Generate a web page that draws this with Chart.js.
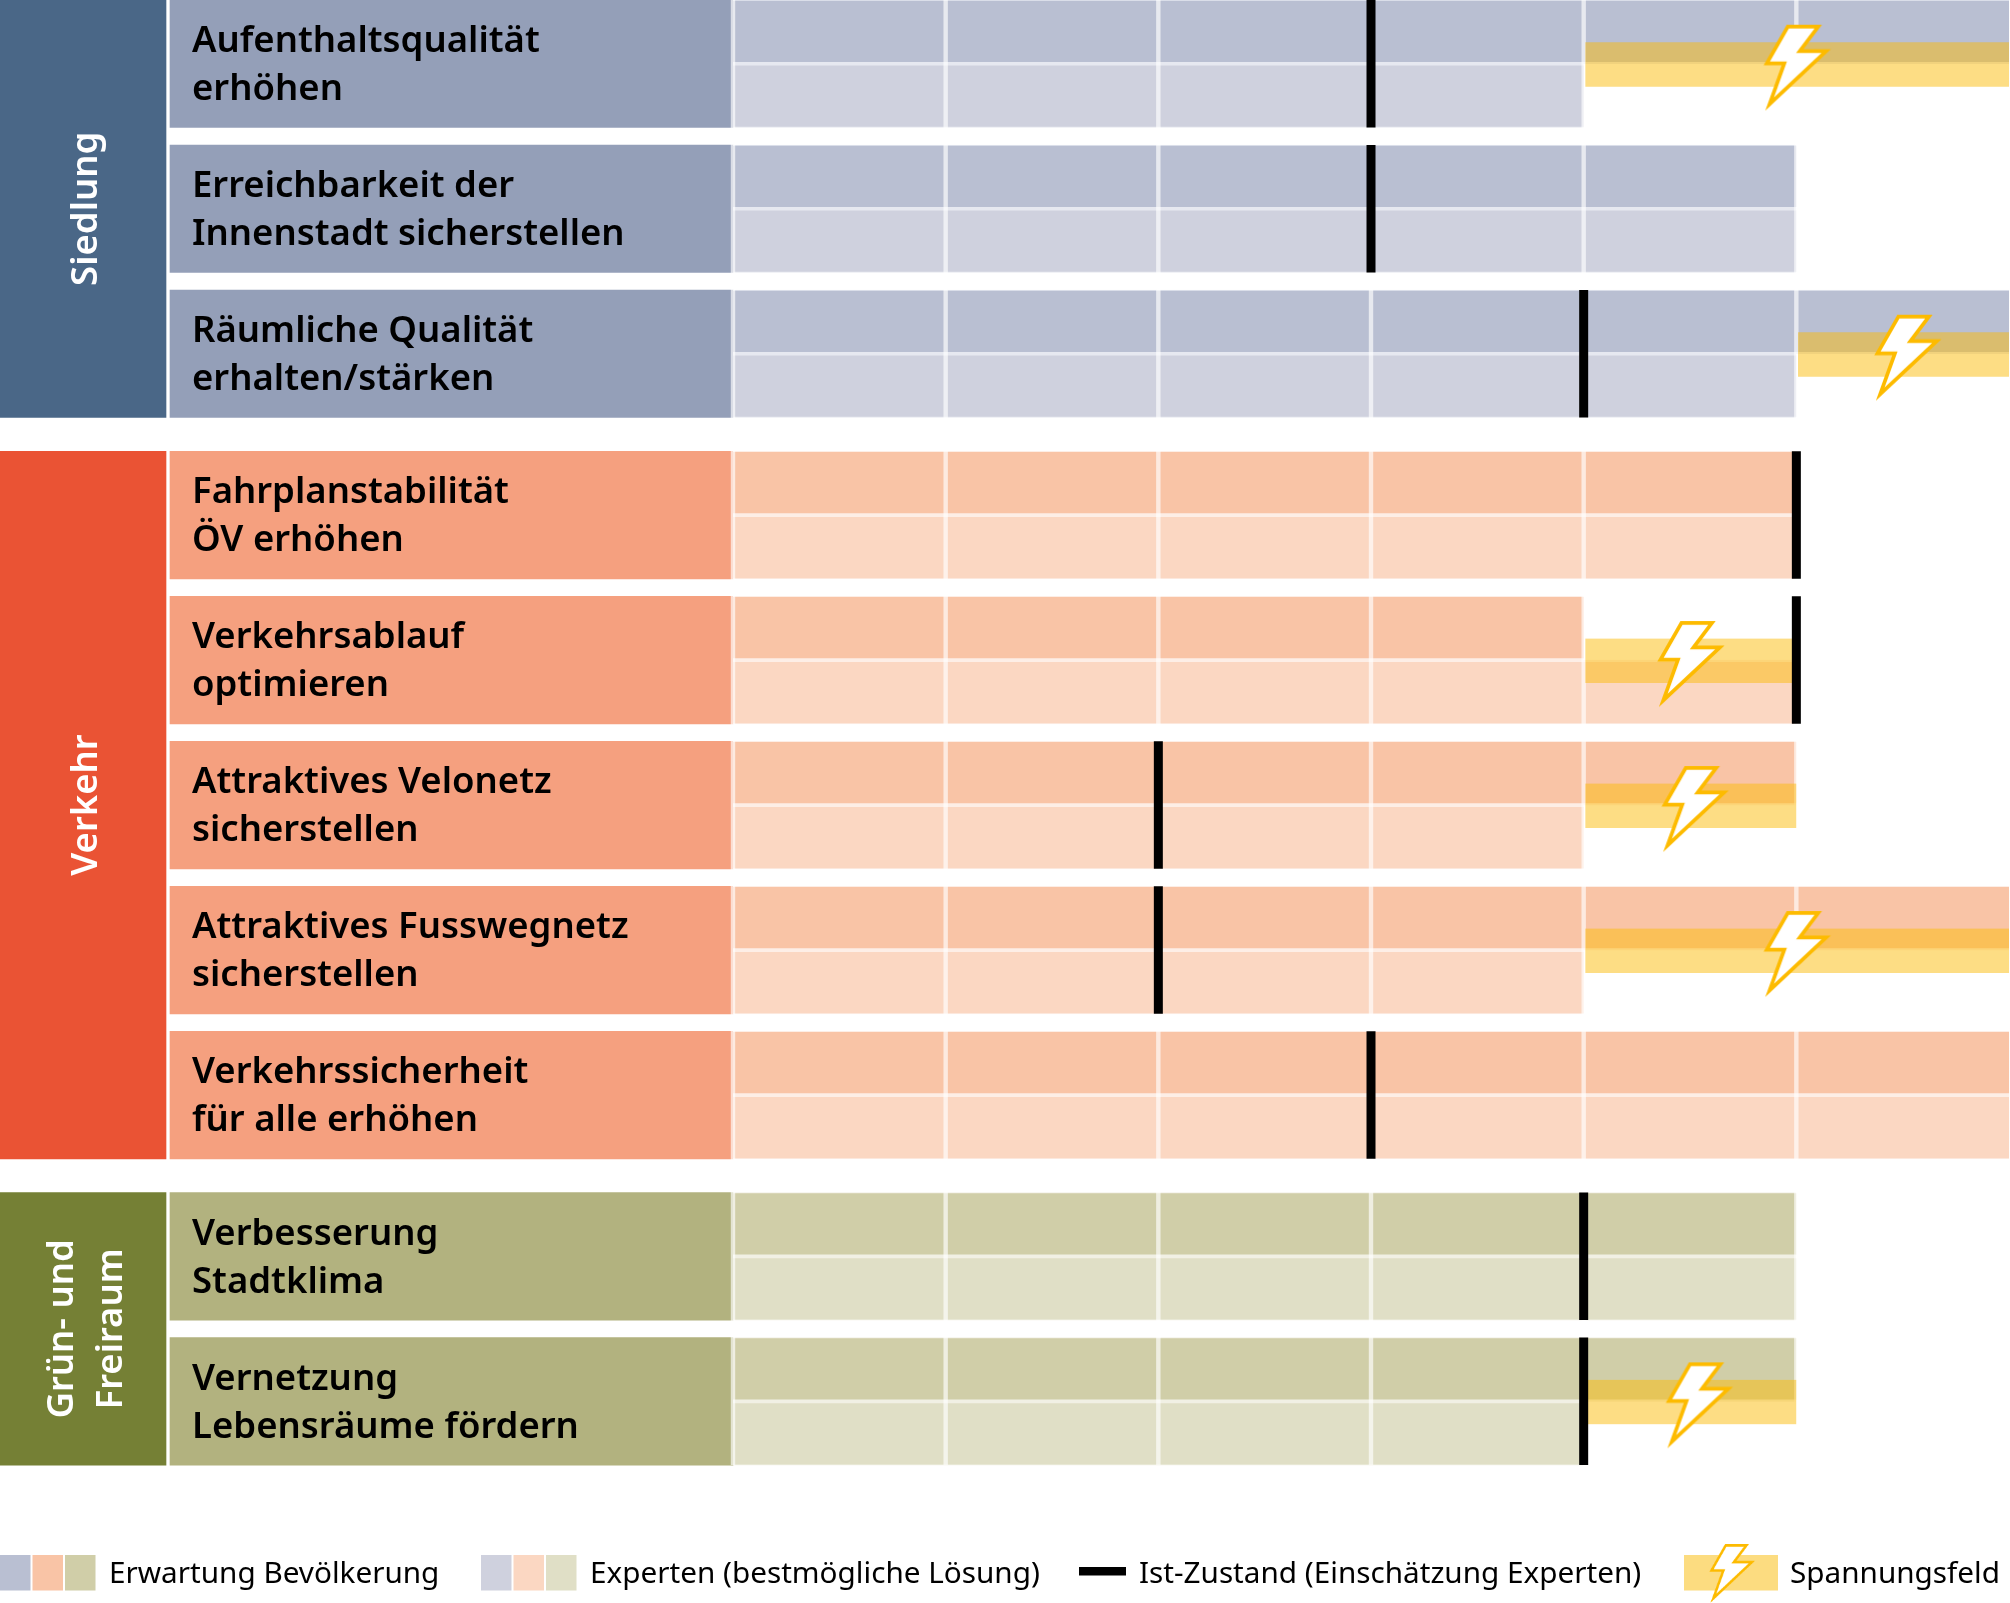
<!DOCTYPE html>
<html lang="de">
<head>
<meta charset="utf-8">
<title>Ziele</title>
<script src="https://cdn.jsdelivr.net/npm/chart.js@4"></script>
<style>
  html, body { margin: 0; padding: 0; background: #fff; }
  canvas { display: block; }
</style>
</head>
<body>
<canvas id="chart" width="2010" height="1603"></canvas>
<script>
// Daten
const rowLabels = [
    ["Aufenthaltsqualität", "erhöhen"],
    ["Erreichbarkeit der", "Innenstadt sicherstellen"],
    ["Räumliche Qualität", "erhalten/stärken"],
    ["Fahrplanstabilität", "ÖV erhöhen"],
    ["Verkehrsablauf", "optimieren"],
    ["Attraktives Velonetz", "sicherstellen"],
    ["Attraktives Fusswegnetz", "sicherstellen"],
    ["Verkehrssicherheit", "für alle erhöhen"],
    ["Verbesserung", "Stadtklima"],
    ["Vernetzung", "Lebensräume fördern"]
];
const groupLabels = [["Siedlung"], ["Verkehr"], ["Grün- und", "Freiraum"]];
const rowGroup = [0, 0, 0, 1, 1, 1, 1, 1, 2, 2];
const erwartung = [6, 5, 6, 5, 4, 5, 6, 6, 5, 5];
const experten = [4, 5, 5, 5, 5, 4, 4, 6, 5, 4];
const istZustand = [3, 3, 4, 5, 5, 2, 2, 3, 4, 4];
const spannungVon = [4, null, 5, null, 4, 4, 4, null, null, 4];
const spannungBis = [6, null, 6, null, 5, 5, 6, null, null, 5];
const blitzWert = [5, null, 5.52, null, 4.5, 4.52, 5, null, null, 4.54];
const gridValues = [0, 1, 2, 3, 4, 5];
const legendTexts = ["Erwartung Bevölkerung", "Experten (bestmögliche Lösung)", "Ist-Zustand (Einschätzung Experten)", "Spannungsfeld"];

// Farben je Gruppe
const sideColors = ["#4a6787", "#ea5334", "#758035"];
const boxColors = ["#949fb8", "#f5a07f", "#b2b27f"];
const upperColors = ["#b9bfd2", "#f9c4a6", "#d0cea8"];
const lowerColors = ["#cfd1de", "#fbd7c2", "#e0dfc6"];
const tintColors = ["#e6e8f0", "#fdeee6", "#f1f0e4"];
const bandColor = "rgba(251,187,9,0.5)";
const boltColor = "#fdbb00";

// Layout (y-Achse läuft in Pixeln, x-Achse in Skalenstufen)
const W = 2010, H = 1603;
const zeroPx = 733, stepPx = 212.67;
const rowPitch = 145, groupGap = 16.3, rowH = 127.5;
const sideEnd = (166 - zeroPx) / stepPx;
const boxStart = (170 - zeroPx) / stepPx;
const rowTop = i => i * rowPitch + rowGroup[i] * groupGap;
const rowsOf = g => rowGroup.map((v, i) => v === g ? i : -1).filter(i => i >= 0);

function makeBolt() {
    const c = document.createElement("canvas");
    c.width = 84; c.height = 104;
    const p = c.getContext("2d");
    p.translate(42, 52);
    p.scale(1.03, 1.02);
    p.beginPath();
    p.moveTo(-8.3, -40.3);
    p.lineTo(21.3, -40.3);
    p.lineTo(3.3, -16.3);
    p.lineTo(29, -16.3);
    p.lineTo(-26, 35.7);
    p.lineTo(-11.7, -4.3);
    p.lineTo(-28.7, -4.3);
    p.closePath();
    p.fillStyle = "#fff";
    p.fill();
    p.lineWidth = 3.6;
    p.miterLimit = 12;
    p.strokeStyle = boltColor;
    p.stroke();
    return c;
}
const bolt = makeBolt();

const withBand = rowLabels.map((_, i) => i).filter(i => spannungVon[i] !== null);

const sideSets = groupLabels.map((_, g) => {
    const rows = rowsOf(g);
    const top = rowTop(rows[0]);
    const bottom = rowTop(rows[rows.length - 1]) + rowH;
    return {
        type: "bar", label: "Gruppe " + g, stack: "s", order: 6,
        data: [{ x: [-zeroPx / stepPx, sideEnd], y: (top + bottom) / 2 }],
        barThickness: bottom - top,
        backgroundColor: sideColors[g]
    };
});

const datasets = [
    ...sideSets,
    {
        type: "bar", label: "Ziel", stack: "s", order: 6,
        data: rowLabels.map((_, i) => ({ x: [boxStart, 0], y: rowTop(i) + rowH / 2 })),
        barThickness: rowH,
        backgroundColor: rowGroup.map(g => boxColors[g])
    },
    {
        type: "bar", label: legendTexts[0], stack: "s", order: 5,
        data: erwartung.map((v, i) => ({ x: [0, v], y: rowTop(i) + rowH / 4 })),
        barThickness: rowH / 2,
        backgroundColor: rowGroup.map(g => upperColors[g]),
        borderColor: rowGroup.map(g => tintColors[g]),
        borderWidth: { top: 1, right: 0, bottom: 2.2, left: 0 },
        borderSkipped: false
    },
    {
        type: "bar", label: legendTexts[1], stack: "s", order: 5,
        data: experten.map((v, i) => ({ x: [0, v], y: rowTop(i) + rowH * 3 / 4 })),
        barThickness: rowH / 2,
        backgroundColor: rowGroup.map(g => lowerColors[g]),
        borderColor: rowGroup.map(g => tintColors[g]),
        borderWidth: { top: 2.2, right: 0, bottom: 1, left: 0 },
        borderSkipped: false
    },
    {
        type: "bar", label: legendTexts[3], stack: "s", order: 3,
        data: withBand.map(i => ({ x: [spannungVon[i], spannungBis[i]], y: rowTop(i) + 64.5 })),
        barThickness: 44.5,
        backgroundColor: bandColor,
        borderColor: "rgba(0,0,0,0)",
        borderWidth: { top: 0, right: 0, bottom: 0, left: 2 },
        borderSkipped: false
    },
    {
        type: "scatter", label: legendTexts[2], order: 2,
        data: istZustand.map((v, i) => ({ x: v, y: rowTop(i) + rowH / 2 })),
        pointStyle: "line",
        rotation: 90,
        pointRadius: rowH / 2,
        pointBorderWidth: 9,
        pointBorderColor: "#000",
        pointBackgroundColor: "#000",
        clip: false
    },
    {
        type: "scatter", label: "Blitz", order: 1,
        data: withBand.map(i => ({ x: blitzWert[i], y: rowTop(i) + rowH / 2 + 4 })),
        pointStyle: bolt,
        pointRadius: 10,
        clip: false
    }
];

// weisse Rasterlinien liegen über den Balken, aber unter dem Spannungsfeld
const gridOverBars = {
    id: "gridOverBars",
    beforeDatasetDraw(chart, args) {
        if (chart.data.datasets[args.index].label !== legendTexts[3]) return;
        const ctx = chart.ctx, xs = chart.scales.x;
        ctx.save();
        ctx.strokeStyle = "rgba(255,255,255,0.65)";
        ctx.lineWidth = 4.4;
        gridValues.forEach(v => {
            const px = xs.getPixelForValue(v);
            ctx.beginPath();
            ctx.moveTo(px, 0);
            ctx.lineTo(px, rowTop(rowLabels.length - 1) + rowH);
            ctx.stroke();
        });
        ctx.restore();
    }
};

const rowFont = '600 36.5px "Noto Sans"';
const groupFont = '600 36.5px "Noto Sans"';
const legendFont = '400 29.7px "Noto Sans"';

const textPlugin = {
    id: "textPlugin",
    afterDraw(chart) {
        const ctx = chart.ctx;
        ctx.save();
        ctx.textAlign = "left";
        ctx.textBaseline = "alphabetic";
        ctx.fillStyle = "#000";
        ctx.font = rowFont;
        rowLabels.forEach((lines, i) => {
            ctx.fillText(lines[0], 192, rowTop(i) + 52);
            ctx.fillText(lines[1], 192, rowTop(i) + 100);
        });

        ctx.fillStyle = "#fff";
        ctx.font = groupFont;
        ctx.textAlign = "center";
        groupLabels.forEach((lines, g) => {
            const rows = rowsOf(g);
            const mid = (rowTop(rows[0]) + rowTop(rows[rows.length - 1]) + rowH) / 2;
            lines.forEach((line, k) => {
                ctx.save();
                ctx.translate(97 + (k - (lines.length - 1) / 2) * 49, mid);
                ctx.rotate(-Math.PI / 2);
                ctx.fillText(line, 0, 0);
                ctx.restore();
            });
        });

        // Legende
        const swatchY = 1555, swatchH = 35.5;
        [0, 481].forEach((x0, s) => {
            const cols = s === 0 ? upperColors : lowerColors;
            cols.forEach((c, k) => {
                ctx.fillStyle = c;
                ctx.fillRect(x0 + k * 32.5, swatchY, 30.5, swatchH);
            });
        });
        ctx.fillStyle = "#000";
        ctx.fillRect(1079, 1567, 47, 8.5);
        ctx.fillStyle = "#fcdc80";
        ctx.fillRect(1684, swatchY, 94, swatchH);
        ctx.drawImage(bolt, 1703, 1538, 57, 71);

        ctx.font = legendFont;
        ctx.textAlign = "left";
        ctx.fillStyle = "#000";
        ctx.fillText(legendTexts[0], 109, 1583);
        ctx.fillText(legendTexts[1], 590, 1583);
        ctx.fillText(legendTexts[2], 1139, 1583);
        ctx.fillText(legendTexts[3], 1790, 1583);
        ctx.restore();
    }
};

new Chart(document.getElementById("chart").getContext("2d"), {
    data: { datasets: datasets },
    plugins: [gridOverBars, textPlugin],
    options: {
        indexAxis: "y",
        responsive: false,
        animation: false,
        layout: { padding: 0, autoPadding: false },
        plugins: { legend: { display: false }, tooltip: { enabled: false } },
        scales: {
            x: { type: "linear", min: -zeroPx / stepPx, max: (W - zeroPx) / stepPx, stacked: false, display: false },
            y: { type: "linear", min: 0, max: H, reverse: true, offset: false, display: false }
        }
    }
});
</script>
</body>
</html>
